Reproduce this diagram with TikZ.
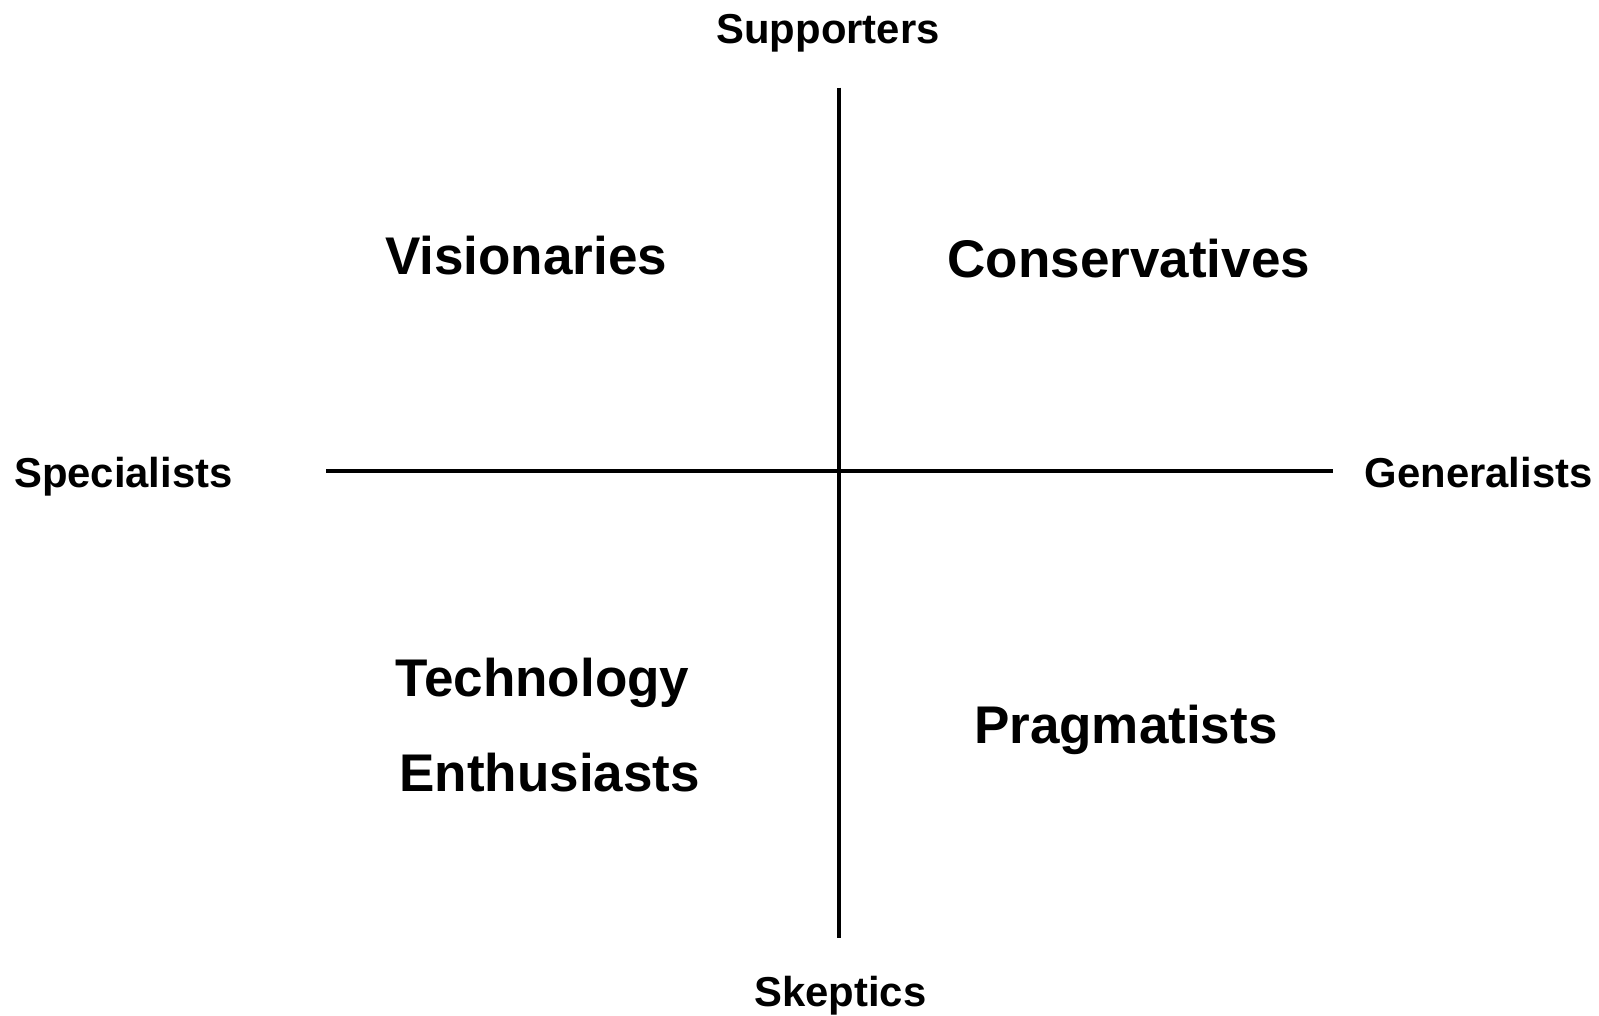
\documentclass[tikz,border=0pt]{standalone}
\usepackage{fontspec}
\setmainfont{Liberation Sans}
\begin{document}
\begin{tikzpicture}[x=0.5pt,y=-0.5pt,
  axislabel/.style={font=\bfseries\fontsize{20.5pt}{24pt}\selectfont, inner sep=0pt, anchor=base},
  quadlabel/.style={font=\bfseries\fontsize{26pt}{31pt}\selectfont, inner sep=0pt, anchor=base},
  axisline/.style={draw=black, line width=1.8pt}]
  \useasboundingbox (0,0) rectangle (1568,996);

  % axis end points
  \coordinate (top) at (823,86);
  \coordinate (bottom) at (823,920);
  \coordinate (left) at (320,462);
  \coordinate (right) at (1307,462);

  \draw[axisline] (top) -- (bottom);
  \draw[axisline] (left) -- (right);

  % axis labels
  \node[axislabel] (sup) at (812,43) {Supporters};
  \node[axislabel] (ske) at (824,987) {Skeptics};
  \node[axislabel] (spe) at (121,478) {Specialists};
  \node[axislabel] (gen) at (1450,478) {Generalists};

  % quadrant labels
  \node[quadlabel] (vis) at (516,269) {Visionaries};
  \node[quadlabel] (con) at (1107,272) {Conservatives};
  \node[quadlabel] (tec) at (532,683) {Technology};
  \node[quadlabel] (ent) at (539,776) {Enthusiasts};
  \node[quadlabel] (pra) at (1104,729) {Pragmatists};
\end{tikzpicture}
\end{document}
